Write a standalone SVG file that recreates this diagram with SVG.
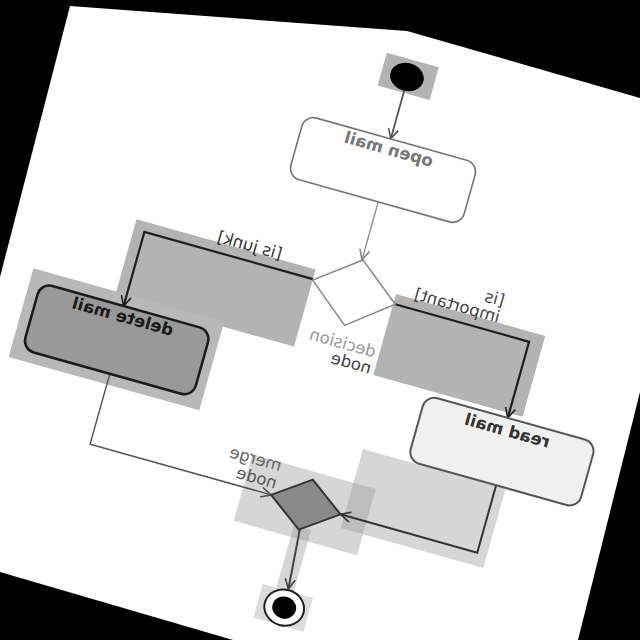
<svg xmlns="http://www.w3.org/2000/svg" width="640" height="640" viewBox="0 0 640 640">
<style>
.lbl{font-family:"DejaVu Sans","Liberation Sans",sans-serif;font-size:16.5px}
.nl{font-family:"DejaVu Sans","Liberation Sans",sans-serif;font-size:16.5px;font-weight:bold;text-anchor:middle}
.hl{fill:#b3b3b3}
.hs{fill:#999999;fill-opacity:0.4}
.c{fill:none;stroke-linejoin:miter}
</style>
<defs>
<marker id="a" viewBox="0 0 12 12" refX="11" refY="6" markerWidth="12" markerHeight="12" markerUnits="userSpaceOnUse" orient="auto">
<path d="M1,1 L11,6 L1,11" fill="none" stroke="context-stroke" stroke-width="1.6"/>
</marker>
</defs>
<rect x="0" y="0" width="640" height="640" fill="#000"/>
<polygon points="70,6 407,31 640,98 640,392 578,640 233,640 0,572 0,277" fill="#fff"/>
<g transform="matrix(-0.963,-0.27,-0.27,0.963,407,77)">
<g id="highlights">
<rect class="hl" x="-28" y="-18" width="54" height="34" fill="#bcbcbc"/>
<rect class="hl" x="36" y="210" width="186" height="80"/>
<rect class="hl" x="-203" y="212" width="155" height="84"/>
<rect x="110" y="285" width="198" height="92" fill="#b8b8b8"/>
<rect class="hs" x="-206" y="370" width="148" height="82"/>
<rect class="hs" x="-81" y="405" width="128" height="69"/>
<rect class="hs" x="-30" y="462" width="18" height="65"/>
<rect x="-50" y="527" width="52" height="35" fill="#dcdcdc"/>
</g>
<g id="connectors">
<path class="c" d="M-1,14 V64" stroke="#555" stroke-width="1.8" marker-end="url(#a)"/>
<path class="c" d="M-6,127 V188" stroke="#888" stroke-width="1.3" marker-end="url(#a)"/>
<path class="c" d="M36,220 H211 V297" stroke="#1e1e1e" stroke-width="2.2" marker-end="url(#a)"/>
<path class="c" d="M-50,222 H-189 V301" stroke="#1e1e1e" stroke-width="2.2" marker-end="url(#a)"/>
<path class="c" d="M206,366 V439 H18" stroke="#555" stroke-width="1.5" marker-end="url(#a)"/>
<path class="c" d="M-196,369 V439 H-54" stroke="#333" stroke-width="2" marker-end="url(#a)"/>
<path class="c" d="M-19,465 L-24,525" stroke="#444" stroke-width="2" marker-end="url(#a)"/>
<text class="lbl" x="106" y="210" text-anchor="middle" fill="#333">[is junk]</text>
<text class="lbl" x="-154" y="195" fill="#444">[is</text>
<text class="lbl" x="-154" y="212" fill="#444">important]</text>
</g>
<g id="initial">
<ellipse cx="0" cy="0" rx="17" ry="14" fill="#000"/>
</g>
<g id="open-mail">
<rect x="-92" y="64" width="180" height="64" rx="12" fill="#fff" stroke="#777" stroke-width="1.6"/>
<text class="nl" x="-2" y="80" fill="#777">open mail</text>
</g>
<g id="decision">
<polygon points="-7,188 36,221 -7,256 -50,222" fill="#fff" stroke="#888" stroke-width="1.5"/>
<text class="lbl" x="-44" y="279" fill="#999">decision</text>
<text class="lbl" x="-44" y="296" fill="#444">node</text>
</g>
<g id="delete-mail">
<rect x="120" y="297" width="177" height="69" rx="12" fill="#999" stroke="#1a1a1a" stroke-width="2.5"/>
<text class="nl" x="209" y="313" fill="#1a1a1a">delete mail</text>
</g>
<g id="read-mail">
<rect x="-281" y="301" width="177" height="68" rx="12" fill="#f0f0f0" stroke="#555" stroke-width="2"/>
<text class="nl" x="-192" y="319" fill="#333">read mail</text>
</g>
<g id="merge">
<polygon points="-18,413 18,439 -18,465 -54,439" fill="#8a8a8a" stroke="#333" stroke-width="2"/>
<text class="lbl" x="16" y="414" fill="#666">merge</text>
<text class="lbl" x="16" y="432" fill="#555">node</text>
</g>
<g id="final">
<ellipse cx="-25" cy="544" rx="20" ry="18" fill="#fff" stroke="#222" stroke-width="2"/>
<ellipse cx="-25" cy="544" rx="12" ry="11" fill="#000"/>
</g>
</g>
</svg>
